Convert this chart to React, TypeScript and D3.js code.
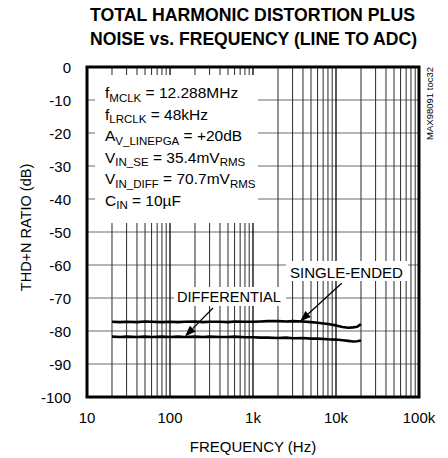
import React from "react";
import * as d3 from "d3";

const freqs = [20, 25, 30, 40, 50, 60, 80, 100, 125, 150, 200, 250, 300, 400, 500, 600, 800, 1000, 1250, 1500, 2000, 2500, 3000, 4000, 5000, 6000, 8000, 10000, 12000, 14000, 16000, 18000, 20000];
const singleEnded = [-77.2, -77.3, -77.2, -77.3, -77.1, -77.2, -77.3, -77.2, -77.3, -77.2, -77.1, -77.3, -77.2, -77.2, -77.3, -77.1, -77.2, -77.2, -77.1, -77.0, -77.0, -77.1, -77.0, -77.1, -77.3, -77.5, -77.9, -78.3, -78.8, -79.0, -78.9, -78.7, -77.9];
const differential = [-81.7, -81.8, -81.7, -81.8, -81.7, -81.8, -81.7, -81.8, -81.7, -81.8, -81.7, -81.8, -81.7, -81.8, -81.8, -81.7, -81.9, -81.9, -82.0, -82.0, -82.1, -82.0, -82.2, -82.1, -82.3, -82.3, -82.5, -82.6, -82.8, -83.0, -83.2, -83.1, -82.9];
const xTicks = [10, 100, 1000, 10000, 100000];
const xTickLabels = ["10", "100", "1k", "10k", "100k"];
const yTicks = [0, -10, -20, -30, -40, -50, -60, -70, -80, -90, -100];
const titleLines = ["TOTAL HARMONIC DISTORTION PLUS", "NOISE vs. FREQUENCY (LINE TO ADC)"];

const FONT = "'Liberation Sans', Arial, Helvetica, sans-serif";

export default function App() {
  const L = 87, R = 419, T = 67, B = 397;
  const x = d3.scaleLog().domain([10, 100000]).range([L, R]);
  const y = d3.scaleLinear().domain([-100, 0]).range([B, T]);

  const minor: number[] = [];
  for (let k = 1; k <= 4; k++) {
    for (let m = 2; m <= 9; m++) minor.push(m * Math.pow(10, k));
  }
  const majors = [100, 1000, 10000];

  const line = d3
    .line<number>()
    .x((_, i) => x(freqs[i]))
    .y((d) => y(d))
    .curve(d3.curveLinear);

  const arrow = (x1: number, y1: number, x2: number, y2: number) => {
    const ang = Math.atan2(y2 - y1, x2 - x1);
    const len = 11, w = 4;
    const bx = x2 - len * Math.cos(ang), by = y2 - len * Math.sin(ang);
    const px = -Math.sin(ang) * w, py = Math.cos(ang) * w;
    return (
      <g>
        <line x1={x1} y1={y1} x2={bx} y2={by} stroke="#000" strokeWidth={1.3} />
        <polygon points={`${x2},${y2} ${bx + px},${by + py} ${bx - px},${by - py}`} fill="#000" />
      </g>
    );
  };

  const sub = 11.5;
  const main = 15.5;

  return (
    <svg width={448} height={458} style={{ position: "absolute", left: 0, top: 0, background: "#fff" }} fontFamily={FONT}>
      <rect x={0} y={0} width={448} height={458} fill="#fff" />
      {/* title */}
      <text x={252.5} y={20.5} textAnchor="middle" fontWeight="bold" fontSize={17.5} textLength={325} lengthAdjust="spacingAndGlyphs">{titleLines[0]}</text>
      <text x={253.5} y={45} textAnchor="middle" fontWeight="bold" fontSize={17.5} textLength={327} lengthAdjust="spacingAndGlyphs">{titleLines[1]}</text>

      {/* grid */}
      {yTicks.filter((v) => v !== 0 && v !== -100).map((v) => (
        <line key={"h" + v} x1={L} x2={R} y1={y(v)} y2={y(v)} stroke="#6a6a6a" strokeWidth={1} />
      ))}
      {minor.map((f) => (
        <line key={"m" + f} x1={x(f)} x2={x(f)} y1={T} y2={B} stroke="#2a2a2a" strokeWidth={1} />
      ))}
      {majors.map((f) => (
        <line key={"M" + f} x1={x(f)} x2={x(f)} y1={T} y2={B} stroke="#000" strokeWidth={1.3} />
      ))}

      {/* annotation box */}
      <rect x={95} y={75} width={163} height={148} fill="#fff" />
      <g fontSize={main} fill="#000">
        <text x={105} y={98}>f<tspan fontSize={sub} dy={3.5}>MCLK</tspan><tspan dy={-3.5}> = 12.288MHz</tspan></text>
        <text x={105} y={119.5}>f<tspan fontSize={sub} dy={3.5}>LRCLK</tspan><tspan dy={-3.5}> = 48kHz</tspan></text>
        <text x={105} y={141}>A<tspan fontSize={sub} dy={3.5}>V_LINEPGA</tspan><tspan dy={-3.5}> = +20dB</tspan></text>
        <text x={105} y={162.5}>V<tspan fontSize={sub} dy={3.5}>IN_SE</tspan><tspan dy={-3.5}> = 35.4mV</tspan><tspan fontSize={sub} dy={3.5}>RMS</tspan></text>
        <text x={105} y={184}>V<tspan fontSize={sub} dy={3.5}>IN_DIFF</tspan><tspan dy={-3.5}> = 70.7mV</tspan><tspan fontSize={sub} dy={3.5}>RMS</tspan></text>
        <text x={105} y={205.5}>C<tspan fontSize={sub} dy={3.5}>IN</tspan><tspan dy={-3.5}> = 10µF</tspan></text>
      </g>

      {/* label boxes */}
      <rect x={174} y={287} width={112} height={19} fill="#fff" />
      <rect x={286} y={261} width={122} height={20} fill="#fff" />
      <text x={177} y={302} fontSize={15.5} textLength={104} lengthAdjust="spacingAndGlyphs">DIFFERENTIAL</text>
      <text x={290} y={277.5} fontSize={15.5} textLength={113} lengthAdjust="spacingAndGlyphs">SINGLE-ENDED</text>

      {/* curves */}
      <path d={line(singleEnded) || ""} fill="none" stroke="#000" strokeWidth={2.6} strokeLinejoin="round" />
      <path d={line(differential) || ""} fill="none" stroke="#000" strokeWidth={2.6} strokeLinejoin="round" />

      {arrow(213, 308, 185, 336.5)}
      {arrow(341.7, 283.3, 300, 321.5)}

      {/* frame */}
      <rect x={L} y={T} width={R - L} height={B - T} fill="none" stroke="#000" strokeWidth={3} />

      {/* y tick labels */}
      {yTicks.map((v) => (
        <text key={"yl" + v} x={71} y={y(v) + 6} textAnchor="end" fontSize={15}>{v}</text>
      ))}
      {/* x tick labels */}
      {xTicks.map((f, i) => (
        <text key={"xl" + f} x={x(f)} y={423} textAnchor="middle" fontSize={15}>{xTickLabels[i]}</text>
      ))}

      <text x={253} y={452} textAnchor="middle" fontSize={15}>FREQUENCY (Hz)</text>
      <text transform="translate(31,227.5) rotate(-90)" textAnchor="middle" fontSize={14.5}>THD+N RATIO (dB)</text>
      <text transform="translate(432.5,67) rotate(-90)" textAnchor="end" fontSize={9.5}>MAX98091 toc32</text>
    </svg>
  );
}
